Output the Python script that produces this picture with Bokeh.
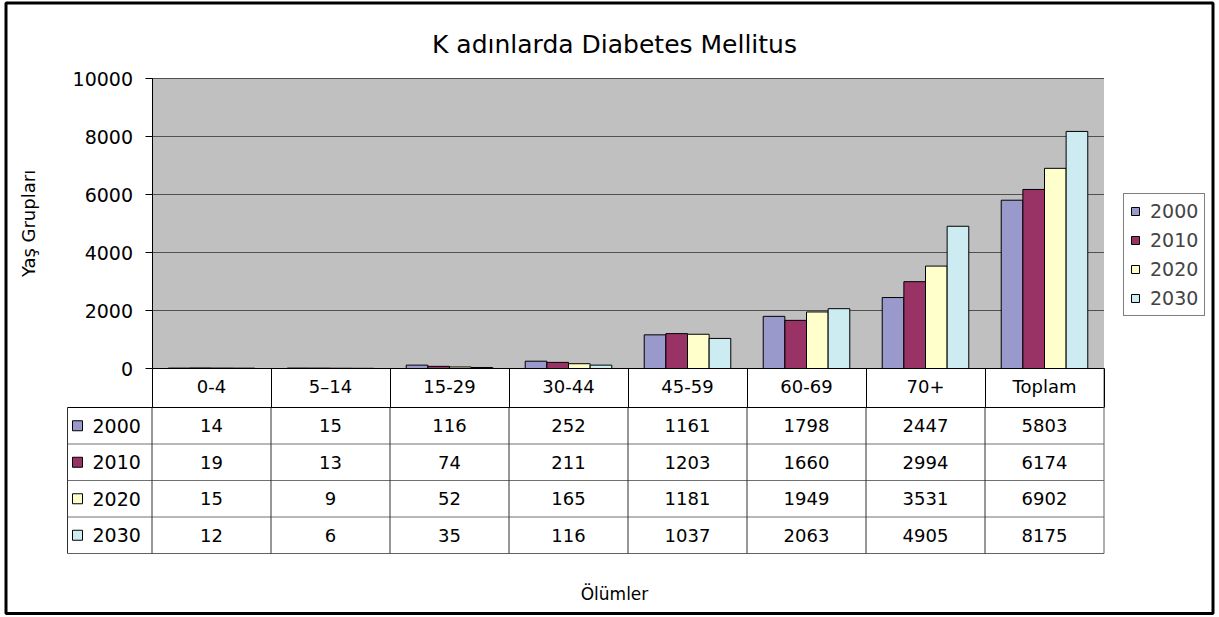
from bokeh.plotting import figure
from bokeh.models import ColumnDataSource, Range1d, FixedTicker, Legend, LegendItem, LinearAxis
from bokeh.embed import file_html
from bokeh.resources import INLINE
from bokeh.core.properties import value

# ---------------- data ----------------
categories = ["0-4", "5\u201314", "15-29", "30-44", "45-59", "60-69", "70+", "Toplam"]
years = ["2000", "2010", "2020", "2030"]
v2000 = [14, 15, 116, 252, 1161, 1798, 2447, 5803]
v2010 = [19, 13, 74, 211, 1203, 1660, 2994, 6174]
v2020 = [15, 9, 52, 165, 1181, 1949, 3531, 6902]
v2030 = [12, 6, 35, 116, 1037, 2063, 4905, 8175]
y_ticks = [0, 2000, 4000, 6000, 8000, 10000]
title_text = "K adınlarda Diabetes Mellitus"
y_label = "Yaş Grupları"
x_label = "Ölümler"

series = [v2000, v2010, v2020, v2030]
colors = ["#9999CC", "#993366", "#FFFFCC", "#CCECF2"]
FONT = "DejaVu Sans"

# ---------------- layout (pixels) ----------------
W, H = 1219, 617
X0_PX = 151.5          # left edge of plot area
COL = 119.0            # px per category
Y0_PX = 368.0          # value 0
PX_PER_UNIT = 290.0 / y_ticks[-1]
TABLE_LEFT_PX = 67.0
ROW_TOP_PX = 407.0
ROW_H = 36.5

n = len(categories)
x_lo, x_hi = -0.5, n - 0.5
y_top = y_ticks[-1]


def xd(px):
    return (px - X0_PX) / COL - 0.5


def yd(py):
    return (Y0_PX - py) / PX_PER_UNIT


p = figure(width=W, height=H, x_range=Range1d(xd(0), xd(W)), y_range=Range1d(yd(H), yd(0)),
           x_axis_location=None, y_axis_location=None, output_backend="svg",
           toolbar_location=None, min_border=0, min_border_left=0, min_border_right=0,
           min_border_top=0, min_border_bottom=0, outline_line_color=None,
           background_fill_color="white", border_fill_color="white")
for g in p.grid:
    g.visible = False

# outer border
p.quad(left=[xd(5.5)], right=[xd(1212.5)], top=[yd(2.5)], bottom=[yd(613)],
       fill_color=None, line_color="black", line_width=3)

# plot area
p.quad(left=[x_lo], right=[x_hi], bottom=[0], top=[y_top], fill_color="#C0C0C0", line_color=None)
p.segment(x0=[x_lo] * (len(y_ticks) - 1), x1=[x_hi] * (len(y_ticks) - 1),
          y0=y_ticks[1:], y1=y_ticks[1:], line_color="#505050", line_width=1)

# bars
bar_w = 1.0 / 5.5
renderers = []
for k, vals in enumerate(series):
    off = (k - 1.5) * bar_w
    src = ColumnDataSource(dict(x=[i + off for i in range(n)], top=vals))
    r = p.vbar(x="x", top="top", width=bar_w, bottom=0, source=src,
               fill_color=colors[k], line_color="black", line_width=1)
    renderers.append(r)

# axes
ya = LinearAxis(fixed_location=x_lo, bounds=(0, y_top),
                ticker=FixedTicker(ticks=y_ticks, minor_ticks=[]))
ya.major_tick_out = 7
ya.major_tick_in = 0
ya.minor_tick_out = 0
ya.minor_tick_in = 0
ya.axis_line_color = "black"
ya.major_tick_line_color = "black"
ya.major_label_standoff = 12
ya.major_label_text_font = FONT
ya.major_label_text_font_size = "19px"
ya.major_label_text_color = "black"
ya.axis_label = y_label
ya.axis_label_text_font = FONT
ya.axis_label_text_font_size = "18px"
ya.axis_label_text_font_style = "normal"
ya.axis_label_text_color = "black"
ya.axis_label_standoff = 31
p.add_layout(ya, "left")

xa = LinearAxis(fixed_location=0, bounds=(x_lo, x_hi),
                ticker=FixedTicker(ticks=list(range(n)), minor_ticks=[i - 0.5 for i in range(n + 1)]))
xa.major_label_overrides = {i: c for i, c in enumerate(categories)}
xa.major_tick_out = 0
xa.major_tick_in = 0
xa.minor_tick_out = 39
xa.minor_tick_in = 0
xa.minor_tick_line_color = "black"
xa.axis_line_color = "black"
xa.major_label_standoff = -32
xa.major_label_text_font = FONT
xa.major_label_text_font_size = "18px"
xa.major_label_text_color = "black"
p.add_layout(xa, "below")

# data table lines
row_edges = [yd(ROW_TOP_PX + ROW_H * k) for k in range(5)]
t_left = xd(TABLE_LEFT_PX)
p.segment(x0=[t_left] * 3, x1=[x_hi] * 3, y0=row_edges[1:4], y1=row_edges[1:4],
          line_color="#707070", line_width=1)
p.segment(x0=[t_left], x1=[x_hi], y0=[row_edges[4]], y1=[row_edges[4]],
          line_color="#606060", line_width=1)
p.segment(x0=[t_left], x1=[x_hi], y0=[row_edges[0]], y1=[row_edges[0]],
          line_color="black", line_width=1)
bx = [t_left] + [i - 0.5 for i in range(n)]
p.segment(x0=bx, x1=bx, y0=[row_edges[0]] * len(bx), y1=[row_edges[4]] * len(bx),
          line_color="#303030", line_width=1)
p.segment(x0=[x_hi], x1=[x_hi], y0=[0], y1=[row_edges[4]], line_color="#606060", line_width=1)

row_c = [(row_edges[k] + row_edges[k + 1]) / 2 for k in range(4)]
cx, cy, ct = [], [], []
for k, vals in enumerate(series):
    for i, v in enumerate(vals):
        cx.append(i)
        cy.append(row_c[k])
        ct.append(str(v))
p.text(x=cx, y=cy, text=ct, text_align="center", text_baseline="middle",
       text_font=value(FONT), text_font_size="18px", text_color="black")

p.scatter(x=[xd(77)] * 4, y=row_c, marker="square", size=10, fill_color=colors,
          line_color="black", line_width=1)
p.text(x=[xd(92)] * 4, y=row_c, text=years, text_align="left", text_baseline="middle",
       text_font=value(FONT), text_font_size="19px", text_color="black")

# titles
p.text(x=[xd(614)], y=[yd(44)], text=[title_text], text_align="center", text_baseline="middle",
       text_font=value(FONT), text_font_size="25px", text_color="black")
p.text(x=[xd(614)], y=[yd(593)], text=[x_label], text_align="center", text_baseline="middle",
       text_font=value(FONT), text_font_size="17px", text_color="black")

# legend
legend = Legend(items=[LegendItem(label=years[k], renderers=[renderers[k]]) for k in range(4)],
                location=(1123, H - 316), margin=0, padding=6, spacing=7,
                glyph_width=10, glyph_height=10, label_standoff=10,
                label_text_font=FONT, label_text_font_size="19px",
                border_line_color="black", border_line_width=1,
                background_fill_color="white", background_fill_alpha=1.0)
p.add_layout(legend)

open("out.html", "w").write(file_html(p, INLINE))
